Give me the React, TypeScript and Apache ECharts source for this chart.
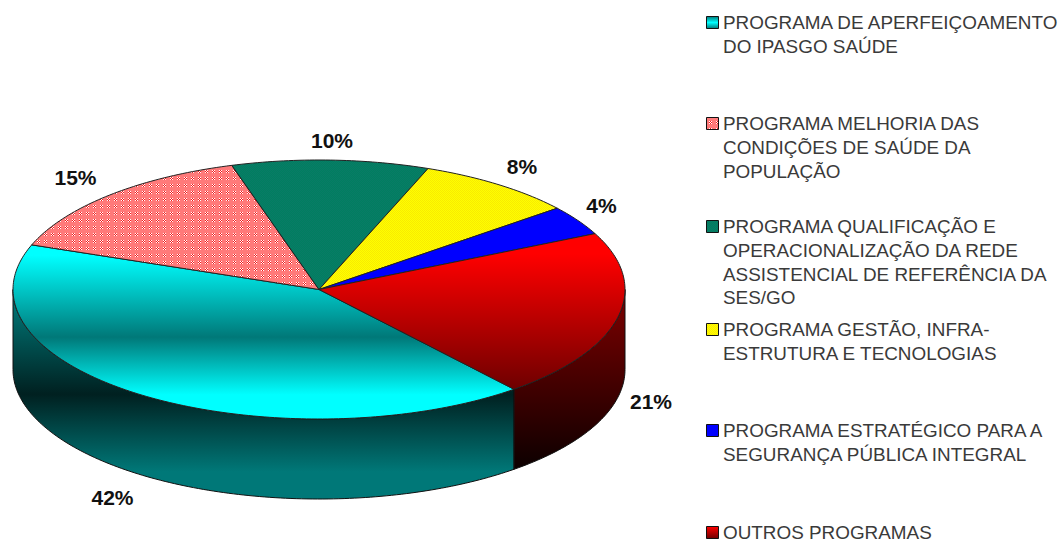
import React, { useEffect, useRef } from "react";
import * as echarts from "echarts";

const CATEGORIES = [
  "PROGRAMA DE APERFEIÇOAMENTO\nDO IPASGO SAÚDE",
  "PROGRAMA MELHORIA DAS\nCONDIÇÕES DE SAÚDE DA\nPOPULAÇÃO",
  "PROGRAMA QUALIFICAÇÃO E\nOPERACIONALIZAÇÃO DA REDE\nASSISTENCIAL DE REFERÊNCIA DA\nSES/GO",
  "PROGRAMA GESTÃO, INFRA-\nESTRUTURA E TECNOLOGIAS",
  "PROGRAMA ESTRATÉGICO PARA A\nSEGURANÇA PÚBLICA INTEGRAL",
  "OUTROS PROGRAMAS",
];
const VALUES = [41.6, 14.8, 10.4, 8.4, 3.7, 21.1];
const PERCENT_LABELS = ["42%", "15%", "10%", "8%", "4%", "21%"];

// layout
const CX = 319, CY = 289.5, RX = 306, RY = 129.5, DEPTH = 80;
const START_DEG = 309.6;
const LABEL_XY = [[112.5, 497], [75.5, 177], [332, 140], [522, 166.5], [601.5, 205.5], [651, 401.5]];
const LEGEND_Y = [23, 124, 227, 330, 431, 533];
const LINE_H = 23.7;

function checker(a: string, b: string) {
  const c = document.createElement("canvas");
  c.width = 2; c.height = 2;
  const g = c.getContext("2d")!;
  g.fillStyle = a; g.fillRect(0, 0, 2, 2);
  g.fillStyle = b; g.fillRect(0, 0, 1, 1); g.fillRect(1, 1, 1, 1);
  return { image: c, repeat: "repeat" };
}
function blobs() {
  const c = document.createElement("canvas");
  c.width = 7; c.height = 7;
  const g = c.getContext("2d")!;
  g.fillStyle = "#ff7a7a"; g.fillRect(0, 0, 7, 7);
  g.fillStyle = "#ffffff";
  [[2, 2], [4, 2], [3, 3], [2, 4], [4, 4]].forEach(([x, y]) => g.fillRect(x, y, 1, 1));
  g.fillStyle = "#f01818";
  [[3, 2], [2, 3], [4, 3], [3, 4]].forEach(([x, y]) => g.fillRect(x, y, 1, 1));
  return { image: c, repeat: "repeat" };
}
const grad = (stops: [number, string][]) =>
  new echarts.graphic.LinearGradient(0, 0, 0, 1, stops.map(([offset, color]) => ({ offset, color })));

function topFill(i: number): any {
  switch (i) {
    case 0: return grad([[0, "#00ffff"], [0.06, "#00ffff"], [0.53, "#007878"], [0.86, "#00ffff"], [1, "#00ffff"]]);
    case 1: return blobs();
    case 2: return checker("#007f60", "#0a7a66");
    case 3: return checker("#ffff00", "#f8ea00");
    case 4: return "#0000ff";
    default: return grad([[0, "#ff0000"], [0.13, "#ff0000"], [1, "#6e0000"]]);
  }
}
function sideFill(i: number): any {
  return i === 0
    ? grad([[0, "#007878"], [0.05, "#007878"], [0.5, "#002020"], [0.87, "#007878"], [1, "#007878"]])
    : grad([[0, "#800000"], [1, "#0c0000"]]);
}
const pt = (deg: number, dy = 0) => {
  const a = (deg * Math.PI) / 180;
  return [CX + RX * Math.cos(a), CY - RY * Math.sin(a) + dy];
};
const arc = (from: number, to: number, dy = 0) => {
  const n = Math.max(2, Math.ceil(Math.abs(from - to)));
  const out: number[][] = [];
  for (let k = 0; k <= n; k++) out.push(pt(from + ((to - from) * k) / n, dy));
  return out;
};

export default function App() {
  const ref = useRef<HTMLDivElement>(null);
  useEffect(() => {
    const chart = echarts.init(ref.current!, null, { renderer: "svg" });
    const total = VALUES.reduce((s, v) => s + v, 0);
    const renderItem = (params: any, api: any) => {
      const i = params.dataIndex;
      const before = VALUES.slice(0, i).reduce((s, v) => s + v, 0);
      const a0 = START_DEG - (before / total) * 360;
      const a1 = a0 - (api.value(1) / total) * 360;
      const children: any[] = [];
      // visible wall: the parts of the arc on the lower half of the ellipse
      [[180, 360], [-180, 0]].forEach(([bandLo, bandHi]) => {
        const hi = Math.min(a0, bandHi), lo = Math.max(a1, bandLo);
        if (hi > lo) {
          children.push({
            type: "polygon",
            shape: { points: [...arc(hi, lo), ...arc(lo, hi, DEPTH)] },
            style: { fill: sideFill(i), stroke: "#111", lineWidth: 1 },
          });
        }
      });
      children.push({
        type: "polygon",
        shape: { points: [[CX, CY], ...arc(a0, a1)] },
        style: { fill: topFill(i), stroke: "#222", lineWidth: 1, lineJoin: "round" },
      });
      children.push({
        type: "text",
        style: {
          x: LABEL_XY[i][0], y: LABEL_XY[i][1], text: PERCENT_LABELS[i], align: "center", verticalAlign: "middle",
          font: 'bold 21px "Liberation Sans", Arial, sans-serif', fill: "#111",
        },
      });
      return { type: "group", children };
    };
    const legend: any[] = [];
    CATEGORIES.forEach((name, i) => {
      legend.push({
        type: "rect",
        shape: { x: 706.5, y: LEGEND_Y[i] - 6.5, width: 12, height: 12 },
        style: {
          fill: i === 0
            ? grad([[0, "#007878"], [0.5, "#00ffff"], [1, "#007878"]])
            : i === 5
            ? grad([[0, "#ff0000"], [1, "#6e0000"]])
            : topFill(i),
          stroke: "#111", lineWidth: 1,
        },
      });
      name.split("\n").forEach((line, k) => {
        legend.push({
          type: "text",
          x: 723,
          y: LEGEND_Y[i] + k * LINE_H,
          scaleX: 1.05,
          style: {
            x: 0, y: 0, text: line, align: "left", verticalAlign: "middle",
            font: '18px "Liberation Sans", Arial, sans-serif', fill: "#3a3a3a",
          },
        });
      });
    });
    chart.setOption({
      animation: false,
      backgroundColor: "#ffffff",
      series: [{
        type: "custom",
        coordinateSystem: "none",
        silent: true,
        data: VALUES.map((v, i) => [i, v]),
        renderItem,
      }],
      graphic: { elements: legend },
    });
    return () => chart.dispose();
  }, []);
  return <div ref={ref} style={{ position: "fixed", left: 0, top: 0, width: 1058, height: 542 }} />;
}
